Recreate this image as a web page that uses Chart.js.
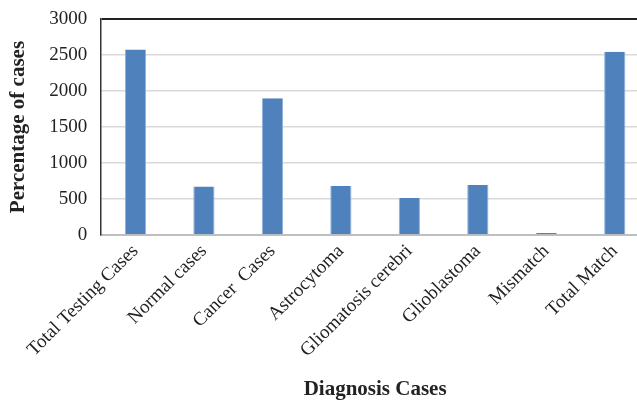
<!DOCTYPE html>
<html>
<head>
<meta charset="utf-8">
<script src="https://cdn.jsdelivr.net/npm/chart.js@4/dist/chart.umd.min.js"></script>
<style>
html,body{margin:0;padding:0;background:#fff;overflow:hidden;}
#wrap{width:637px;height:402px;overflow:hidden;}
</style>
</head>
<body>
<div id="wrap"><canvas id="c" width="649" height="402"></canvas></div>
<script>
const categories = ["Total Testing Cases","Normal cases","Cancer  Cases","Astrocytoma","Gliomatosis cerebri","Glioblastoma","Mismatch","Total Match"];
const values = [2575, 675, 1900, 680, 515, 695, 30, 2545];
const yTicks = [0, 500, 1000, 1500, 2000, 2500, 3000];
const yTitle = "Percentage of cases";
const xTitle = "Diagnosis Cases";

new Chart(document.getElementById('c'), {
  type: 'bar',
  data: {
    labels: categories,
    datasets: [{
      data: values,
      backgroundColor: '#4f81bd',
      borderColor: '#8fb0da',
      borderWidth: {top:0,left:1,right:1,bottom:0},
      barPercentage: 0.31,
      categoryPercentage: 1
    }]
  },
  options: {
    responsive: false,
    animation: false,
    layout: { padding: { top: 19, left: 6, right: 0, bottom: 0 } },
    plugins: { legend: { display: false }, tooltip: { enabled: false } },
    scales: {
      x: {
        afterFit: (s) => { s.paddingRight = 0; },
        grid: { display: false, drawTicks: false },
        border: { color: '#bfbfbf', width: 2 },
        ticks: {
          color: '#222',
          font: { family: 'Liberation Serif', size: 19 },
          minRotation: 45, maxRotation: 45, padding: 5, autoSkip: false
        },
        title: {
          display: true, text: xTitle, color: '#222',
          font: { family: 'Liberation Serif', size: 21, weight: 'bold' },
          padding: { top: 10, bottom: 0 }
        }
      },
      y: {
        min: 0, max: 3000,
        afterBuildTicks: (s) => { s.ticks = yTicks.map(v => ({ value: v })); },
        afterFit: (s) => { s.paddingTop = 0; },
        grid: {
          drawTicks: false,
          color: (ctx) => ctx.tick && ctx.tick.value === 3000 ? '#222' : '#d9d9d9',
          lineWidth: (ctx) => ctx.tick && ctx.tick.value === 3000 ? 2 : 1.5
        },
        border: { color: '#333', width: 1.5 },
        ticks: {
          color: '#222',
          font: { family: 'Liberation Serif', size: 19 },
          padding: 14,
          callback: (v) => String(v)
        },
        title: {
          display: true, text: yTitle, color: '#222',
          font: { family: 'Liberation Serif', size: 21, weight: 'bold' },
          padding: { top: 0, bottom: 4 }
        }
      }
    }
  }
});
</script>
</body>
</html>
